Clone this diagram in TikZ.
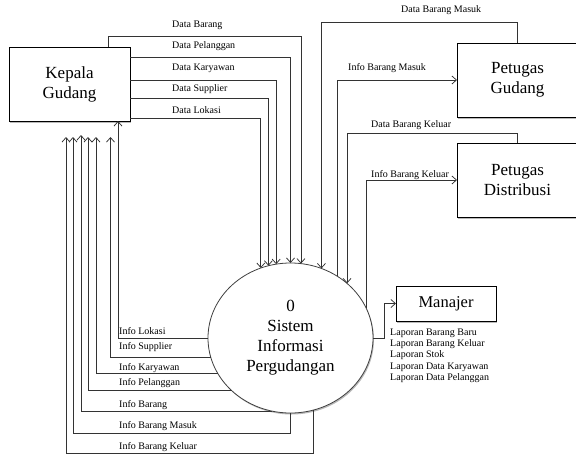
\documentclass[tikz,border=0pt]{standalone}
\usepackage{fontspec}
\setmainfont{Liberation Serif}
\usetikzlibrary{arrows.meta,shapes.geometric,shadows}
\begin{document}
\begin{tikzpicture}[x=1pt,y=-1pt,
  softshadow/.style={drop shadow={shadow xshift=1pt,shadow yshift=-1.5pt,fill=black!55,opacity=0.5}},
  entity/.style={draw=black, line width=0.9pt, fill=white, rectangle, inner sep=0pt, outer sep=0pt,
    align=center, font=\fontsize{17}{20}\selectfont, softshadow},
  process/.style={draw=black!75, line width=0.8pt, fill=white, ellipse, inner sep=0pt, outer sep=0pt,
    align=center, font=\fontsize{17}{20}\selectfont, softshadow},
  flow/.style={draw=black!80, line width=0.75pt, -{Straight Barb[length=4.5pt,width=8pt]}},
  lbl/.style={inner sep=0pt, anchor=base west, font=\fontsize{10}{11}\selectfont},
]
\useasboundingbox (0,0) rectangle (576,456);

% external entities and the process
\node[entity, minimum width=121pt, minimum height=74pt] (kg) at (69.5,84) {Kepala\\Gudang};
\node[entity, minimum width=121pt, minimum height=74pt] (pg) at (517.5,80) {Petugas\\Gudang};
\node[entity, minimum width=121pt, minimum height=74pt] (pd) at (517.5,180) {Petugas\\Distribusi};
\node[entity, minimum width=100pt, minimum height=35pt, font=\fontsize{16.5}{20}\selectfont] (mj) at (446,303.5) {Manajer};
\node[process, minimum width=165pt, minimum height=150pt] (c) at (290.5,338) {0\\Sistem\\Informasi\\Pergudangan};

% data from Kepala Gudang into the system
\draw[flow] ([xshift=38.5pt]kg.north) |- (c.82 |- 0,36) -- (c.82);
\draw[flow] (kg.east |- 0,57) -| (c.north);
\draw[flow] (kg.east |- 0,80) -| (c.101);
\draw[flow] (kg.east |- 0,98) -| (c.107);
\draw[flow] (kg.east |- 0,118) -| (c.113);

% exchanges with Petugas Gudang and Petugas Distribusi
\draw[flow] (pg.north) |- (c.66 |- 0,22) -- (c.66);
\draw[flow] (c.53) |- (pg.west);
\draw[flow] (pd.north) |- (c.44 |- 0,133) -- (c.44);
\draw[flow] (c.22) |- (pd.west);

% reports to Manajer
\draw[flow] (c.east) -- (c.east -| 384,0) |- (mj.west);

% information back to Kepala Gudang
\draw[flow] (c.west) -| ([xshift=48.5pt]kg.south);
\draw[flow] (c.194) -| ([xshift=41pt,yshift=-16pt]kg.south);
\draw[flow] (c.206) -| ([xshift=26.5pt,yshift=-16pt]kg.south);
\draw[flow] (c.222) -| ([xshift=18.5pt,yshift=-16pt]kg.south);
\draw[flow] (c.256) -| ([xshift=11.5pt,yshift=-14pt]kg.south);
\draw[flow] (c.south) -- (c.south |- 0,433) -| ([xshift=3.5pt,yshift=-16pt]kg.south);
\draw[flow] (c.288) -- (c.288 |- 0,453) -| ([xshift=-3.5pt,yshift=-16pt]kg.south);

% flow labels
\node[lbl] (t1) at (172,27) {Data Barang};
\node[lbl] (t2) at (172,48) {Data Pelanggan};
\node[lbl] (t3) at (172,70) {Data Karyawan};
\node[lbl] (t4) at (172,91) {Data Supplier};
\node[lbl] (t5) at (172,113) {Data Lokasi};

\node[lbl] (t6) at (401,12) {Data Barang Masuk};
\node[lbl] (t7) at (348,70) {Info Barang Masuk};
\node[lbl] (t8) at (371,127) {Data Barang Keluar};
\node[lbl] (t9) at (371,177) {Info Barang Keluar};

\node[lbl] (i1) at (119,334) {Info Lokasi};
\node[lbl] (i2) at (119,349) {Info Supplier};
\node[lbl] (i3) at (119,370) {Info Karyawan};
\node[lbl] (i4) at (119,385) {Info Pelanggan};
\node[lbl] (i5) at (119,407) {Info Barang};
\node[lbl] (i6) at (119,428) {Info Barang Masuk};
\node[lbl] (i7) at (119,449) {Info Barang Keluar};

\node[lbl] (r1) at (390,335) {Laporan Barang Baru};
\node[lbl] (r2) at (390,346) {Laporan Barang Keluar};
\node[lbl] (r3) at (390,357.5) {Laporan Stok};
\node[lbl] (r4) at (390,369) {Laporan Data Karyawan};
\node[lbl] (r5) at (390,380.5) {Laporan Data Pelanggan};
\end{tikzpicture}
\end{document}
